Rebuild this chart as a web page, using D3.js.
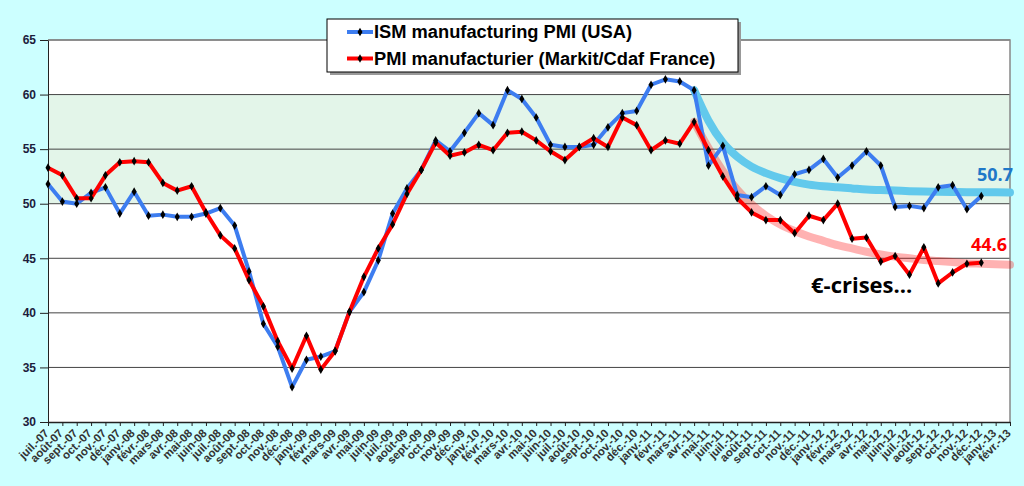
<!DOCTYPE html>
<html>
<head>
<meta charset="utf-8">
<script src="https://cdn.jsdelivr.net/npm/d3@7"></script>
<style>
  body { margin: 0; background: #ccffff; }
  svg { display: block; }
</style>
</head>
<body>
<svg id="chart" width="1024" height="486"></svg>
<script>
let months = ["juil.-07","août-07","sept.-07","oct.-07","nov.-07","déc.-07",
  "janv.-08","févr.-08","mars-08","avr.-08","mai-08","juin-08","juil.-08","août-08","sept.-08","oct.-08","nov.-08","déc.-08",
  "janv.-09","févr.-09","mars-09","avr.-09","mai-09","juin-09","juil.-09","août-09","sept.-09","oct.-09","nov.-09","déc.-09",
  "janv.-10","févr.-10","mars-10","avr.-10","mai-10","juin-10","juil.-10","août-10","sept.-10","oct.-10","nov.-10","déc.-10",
  "janv.-11","févr.-11","mars-11","avr.-11","mai-11","juin-11","juil.-11","août-11","sept.-11","oct.-11","nov.-11","déc.-11",
  "janv.-12","févr.-12","mars-12","avr.-12","mai-12","juin-12","juil.-12","août-12","sept.-12","oct.-12","nov.-12","déc.-12",
  "janv.-13","févr.-13"];

// ISM manufacturing PMI (USA), juil.-07 .. déc.-12
let ism = [51.8,50.2,50.0,51.0,51.5,49.1,51.1,48.9,49.0,48.8,48.8,49.1,49.6,48.0,43.8,39.0,36.9,33.2,
  35.7,36.0,36.5,40.1,41.9,44.8,49.1,51.4,53.1,55.8,54.8,56.5,58.3,57.2,60.4,59.6,57.9,55.4,
  55.2,55.2,55.4,57.0,58.3,58.5,60.9,61.4,61.2,60.4,53.5,55.3,50.8,50.6,51.6,50.8,52.7,53.1,
  54.1,52.4,53.5,54.8,53.5,49.7,49.8,49.6,51.5,51.7,49.5,50.7];

// PMI manufacturier (Markit/Cdaf France), juil.-07 .. déc.-12
let france = [53.3,52.6,50.5,50.5,52.6,53.8,53.9,53.8,51.9,51.2,51.6,49.2,47.1,45.9,43.0,40.6,37.4,34.9,
  37.9,34.8,36.5,40.1,43.3,45.9,48.1,50.9,53.1,55.6,54.4,54.7,55.4,54.9,56.5,56.6,55.8,54.8,
  54.0,55.2,56.0,55.2,57.9,57.2,54.9,55.8,55.5,57.5,54.9,52.5,50.5,49.2,48.5,48.5,47.3,48.9,
  48.5,50.0,46.8,46.9,44.7,45.2,43.5,46.0,42.7,43.7,44.5,44.6];

// trend curves, avr.-11 .. févr.-13
let trendStart = 45;
let ismTrend = [60.4,57.6,55.6,54.3,53.4,52.8,52.35,52.0,51.75,51.6,51.5,51.4,51.3,51.25,51.2,
  51.15,51.12,51.1,51.08,51.06,51.05,51.04,51.03];
let franceTrend = [57.5,55.1,53.0,51.3,49.95,48.9,48.1,47.5,47.0,46.6,46.2,45.9,45.6,45.35,45.15,
  45.0,44.85,44.75,44.65,44.55,44.5,44.45,44.4];

let yTicks = [30,35,40,45,50,55,60,65];
let band = [50, 60];

let svg = d3.select("#chart");

let x = d3.scalePoint()
  .domain(months)
  .range([48, 1010]);

let y = d3.scaleLinear()
  .domain([30, 65])
  .range([422, 40]);

// plot area
svg.append("rect")
  .attr("x", 48).attr("y", y(65))
  .attr("width", 1010 - 48).attr("height", y(30) - y(65))
  .attr("fill", "white");

svg.append("rect")
  .attr("x", 48).attr("y", y(band[1]))
  .attr("width", 1010 - 48).attr("height", y(band[0]) - y(band[1]))
  .attr("fill", "#e3f5e9");

svg.append("g")
  .selectAll("line")
  .data(yTicks.slice(1))
  .join("line")
  .attr("x1", 48).attr("x2", 1010)
  .attr("y1", d => y(d)).attr("y2", d => y(d))
  .attr("stroke", "#444")
  .attr("stroke-width", 1);

// top and right frame
svg.append("path")
  .attr("d", `M48,${y(65)}H1010V${y(30)}`)
  .attr("fill", "none")
  .attr("stroke", "#888")
  .attr("stroke-width", 1.5);

// y axis
let yAxis = svg.append("g")
  .attr("transform", "translate(48,0)")
  .call(d3.axisLeft(y).tickValues(yTicks).tickSize(8).tickSizeOuter(0).tickPadding(4));
yAxis.select(".domain").attr("stroke", "#222");
yAxis.selectAll(".tick line").attr("stroke", "#222");
yAxis.selectAll("text")
  .style("font-family", "Liberation Sans, Arial, sans-serif")
  .style("font-size", "12px")
  .style("font-weight", "bold")
  .attr("fill", "#1c1c3c");

// x axis
let xAxis = svg.append("g")
  .attr("transform", "translate(0,422)")
  .call(d3.axisBottom(x).tickSize(4).tickSizeOuter(0).tickPadding(0));
xAxis.select(".domain").attr("stroke", "#222").attr("stroke-width", 1.5);
xAxis.selectAll(".tick line").attr("stroke", "#222");
xAxis.selectAll("text")
  .style("font-family", "Liberation Sans, Arial, sans-serif")
  .style("font-size", "11.5px")
  .style("font-weight", "bold")
  .attr("fill", "#333")
  .attr("text-anchor", "end")
  .attr("dy", null)
  .attr("y", null)
  .attr("transform", "translate(1,12) rotate(-45)");

// trends
let trendLine = d3.line()
  .x((d, i) => x(months[trendStart + i]))
  .y(d => y(d))
  .curve(d3.curveMonotoneX);

svg.append("path")
  .datum(ismTrend)
  .attr("d", trendLine)
  .attr("fill", "none")
  .attr("stroke", "#62c9ec")
  .attr("stroke-width", 8)
  .attr("stroke-linecap", "round");

svg.append("path")
  .datum(franceTrend)
  .attr("d", trendLine)
  .attr("fill", "none")
  .attr("stroke", "#ff0000")
  .attr("stroke-opacity", 0.3)
  .attr("stroke-width", 8)
  .attr("stroke-linecap", "round");

// series
let series = [
  { name: "ISM manufacturing PMI (USA)", values: ism, color: "#3d7df0" },
  { name: "PMI manufacturier (Markit/Cdaf France)", values: france, color: "#ff0000" }
];

let line = d3.line()
  .x((d, i) => x(months[i]))
  .y(d => y(d));

let diamond = d3.symbol().type(d3.symbolDiamond).size(22);

series.forEach(s => {
  svg.append("path")
    .datum(s.values)
    .attr("d", line)
    .attr("fill", "none")
    .attr("stroke", s.color)
    .attr("stroke-width", 4)
    .attr("stroke-linejoin", "round");
});

series.forEach(s => {
  svg.append("g")
    .selectAll("path")
    .data(s.values)
    .join("path")
    .attr("d", diamond)
    .attr("transform", (d, i) => `translate(${x(months[i])},${y(d)})`)
    .attr("fill", "black");
});

// legend
let legend = svg.append("g").attr("transform", "translate(327,19)");
legend.append("rect")
  .attr("x", 3).attr("y", 3).attr("width", 411).attr("height", 53)
  .attr("fill", "#999");
legend.append("rect")
  .attr("width", 411).attr("height", 53)
  .attr("fill", "white").attr("stroke", "black").attr("stroke-width", 1);

series.forEach((s, i) => {
  let row = legend.append("g").attr("transform", `translate(0,${13 + i * 26.5})`);
  row.append("line")
    .attr("x1", 20).attr("x2", 46)
    .attr("stroke", s.color).attr("stroke-width", 4);
  row.append("path")
    .attr("d", diamond)
    .attr("transform", "translate(33,0)")
    .attr("fill", "black");
  row.append("text")
    .attr("x", 47).attr("y", 6)
    .text(s.name)
    .style("font-family", "Liberation Sans, Arial, sans-serif")
    .style("font-size", "18.3px")
    .style("font-weight", "bold")
    .attr("fill", "black");
});

// annotations
svg.append("text")
  .attr("x", 1013).attr("y", 181)
  .attr("text-anchor", "end")
  .text(ism[ism.length - 1].toFixed(1))
  .style("font-family", "Open Sans, sans-serif")
  .style("font-size", "18px")
  .style("font-weight", "bold")
  .attr("fill", "#1f78c8");

svg.append("text")
  .attr("x", 1007).attr("y", 251)
  .attr("text-anchor", "end")
  .text(france[france.length - 1].toFixed(1))
  .style("font-family", "Open Sans, sans-serif")
  .style("font-size", "18px")
  .style("font-weight", "bold")
  .attr("fill", "#ff0000");

svg.append("text")
  .attr("x", 811).attr("y", 293)
  .text("€-crises...")
  .style("font-family", "Open Sans, sans-serif")
  .style("font-size", "22px")
  .style("font-weight", "bold")
  .attr("fill", "black");
</script>
</body>
</html>
